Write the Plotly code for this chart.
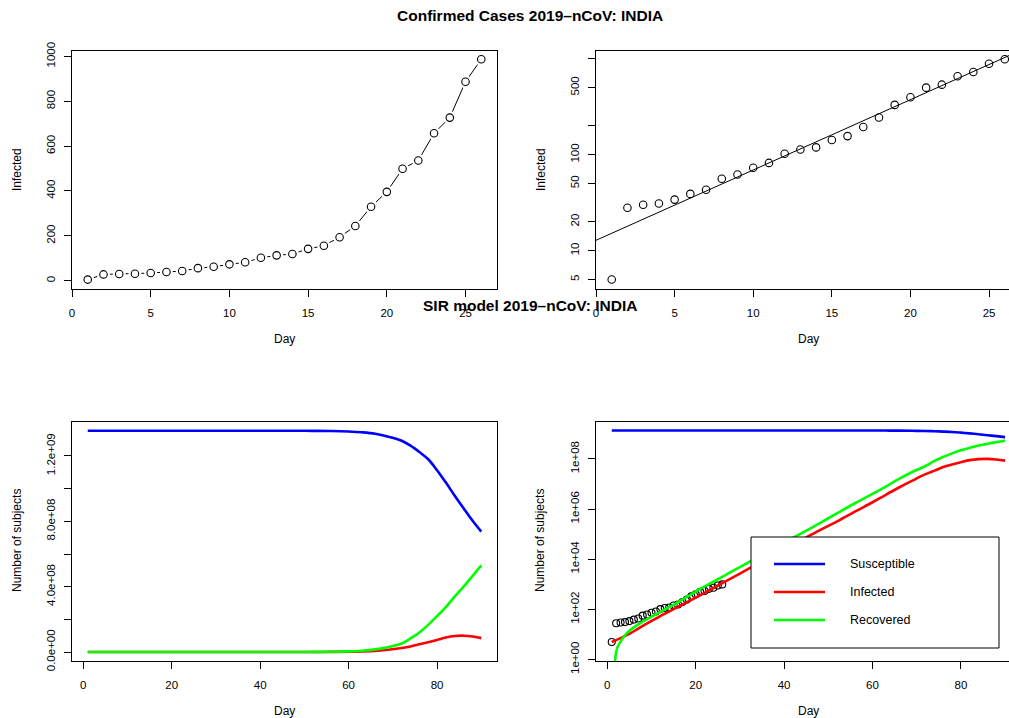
import numpy as np
import plotly.graph_objects as go

# ---------------- data ----------------
days_obs = list(range(1, 27))
infected_obs = [5, 28, 30, 31, 34, 39, 43, 56, 62, 73, 82, 102, 113, 119, 142,
                156, 194, 244, 330, 396, 499, 536, 657, 727, 887, 987]

sir_days = [1, 2, 3, 4, 5, 7, 9, 12, 16, 20, 24, 28, 32, 36, 40, 44, 48, 52, 56,
            60, 63, 66, 69, 72, 74, 76, 78, 80, 82, 84, 86, 88, 90]
susceptible = [1.354e9, 1.354e9, 1.354e9, 1.354e9, 1.354e9, 1.354e9, 1.354e9,
               1.354e9, 1.354e9, 1.354e9, 1.354e9, 1.354e9, 1.354e9, 1.354e9,
               1.354e9, 1.354e9, 1.354e9, 1.3538e9, 1.353e9, 1.350e9, 1.345e9,
               1.336e9, 1.318e9, 1.293e9, 1.263e9, 1.224e9, 1.180e9, 1.113e9,
               1.037e9, 0.957e9, 0.880e9, 0.805e9, 0.737e9]
infected = [5, 5.9, 7.1, 8.7, 10.5, 17, 27.5, 54, 126, 295, 708, 1700, 4170,
            1.0e4, 2.45e4, 5.9e4, 1.41e5, 3.2e5, 7.8e5, 1.86e6, 3.7e6, 7.2e6,
            1.35e7, 2.45e7, 3.4e7, 4.7e7, 6.0e7, 7.4e7, 8.9e7, 9.8e7, 1.0e8,
            9.5e7, 8.5e7]
recovered = [0, 2.0, 5.2, 9.3, 14, 25, 41, 79, 195, 513, 1260, 3090, 7600,
             1.86e4, 4.6e4, 1.1e5, 2.7e5, 6.8e5, 1.7e6, 4.0e6, 7.9e6, 1.6e7,
             3.0e7, 5.2e7, 8.3e7, 1.2e8, 1.66e8, 2.2e8, 2.75e8, 3.4e8, 4.0e8,
             4.65e8, 5.3e8]

series_names = ["Susceptible", "Infected", "Recovered"]
series_colors = ["#0000FF", "#FF0000", "#00FF00"]

lin_ticks_top = [0, 200, 400, 600, 800, 1000]
log_ticks_top = [5, 10, 20, 50, 100, 200, 500, 1000]
log_labels_top = ["5", "10", "20", "50", "100", "", "500", ""]
lin_ticks_sir = [0, 2e8, 4e8, 6e8, 8e8, 1.0e9, 1.2e9]
lin_labels_sir = ["0.0e+00", "", "4.0e+08", "", "8.0e+08", "", "1.2e+09"]
log_ticks_sir = [1, 1e2, 1e4, 1e6, 1e8]
log_labels_sir = ["1e+00", "1e+02", "1e+04", "1e+06", "1e+08"]

# log-linear fit of the confirmed cases
slope, intercept = np.polyfit(days_obs, np.log10(infected_obs), 1)
fit_x = [0, 27]
fit_y = [10 ** (intercept + slope * x) for x in fit_x]

# ---------------- figure ----------------
W, H = 1009, 718
FONT = "Liberation Sans, Arial, Helvetica, sans-serif"

def px_x(p):
    return p / W

def px_y(p):
    return 1 - p / H

fig = go.Figure()

# top-left: linear, type "b"
fig.add_trace(go.Scatter(x=days_obs, y=infected_obs, mode="lines",
                         line=dict(color="black", width=1),
                         xaxis="x", yaxis="y", showlegend=False))
fig.add_trace(go.Scatter(x=days_obs, y=infected_obs, mode="markers",
                         marker=dict(symbol="circle", size=13, color="white",
                                     line=dict(width=0)),
                         xaxis="x", yaxis="y", showlegend=False))
fig.add_trace(go.Scatter(x=days_obs, y=infected_obs, mode="markers",
                         marker=dict(symbol="circle-open", size=7.5, color="black",
                                     line=dict(width=1.1)),
                         xaxis="x", yaxis="y", showlegend=False))

# top-right: log with fit
fig.add_trace(go.Scatter(x=days_obs, y=infected_obs, mode="markers",
                         marker=dict(symbol="circle-open", size=7.5, color="black",
                                     line=dict(width=1.1)),
                         xaxis="x2", yaxis="y2", showlegend=False))
fig.add_trace(go.Scatter(x=fit_x, y=fit_y, mode="lines",
                         line=dict(color="black", width=1),
                         xaxis="x2", yaxis="y2", showlegend=False))

# bottom-left: SIR linear
for vals, name, col in zip([susceptible, infected, recovered], series_names, series_colors):
    fig.add_trace(go.Scatter(x=sir_days, y=vals, mode="lines", name=name,
                             line=dict(color=col, width=2.6, shape="spline", smoothing=1.0),
                             xaxis="x3", yaxis="y3", showlegend=False))

# bottom-right: SIR log with observed points
fig.add_trace(go.Scatter(x=days_obs, y=infected_obs, mode="markers",
                         marker=dict(symbol="circle-open", size=7, color="black",
                                     line=dict(width=1.1)),
                         xaxis="x4", yaxis="y4", showlegend=False))
for vals, name, col in zip([susceptible, infected, recovered], series_names, series_colors):
    fig.add_trace(go.Scatter(x=sir_days, y=vals, mode="lines", name=name,
                             line=dict(color=col, width=2.6, shape="spline", smoothing=1.0),
                             xaxis="x4", yaxis="y4", showlegend=False))

tickfont = dict(family=FONT, size=11.5, color="black")

def axis(**kw):
    d = dict(showgrid=False, zeroline=False, showline=True, linecolor="black",
             linewidth=1, mirror=True, ticks="outside", ticklen=7,
             tickcolor="black", tickwidth=1, tickfont=tickfont, tickmode="array",
             automargin=False)
    d.update(kw)
    return d

xl = [px_x(72), px_x(497)]
xr = [px_x(596), 1.0]
yt = [px_y(289), px_y(51)]
yb = [px_y(661), px_y(422)]

fig.update_layout(
    width=W, height=H, autosize=False,
    margin=dict(l=0, r=0, t=0, b=0, pad=0, autoexpand=False),
    paper_bgcolor="white", plot_bgcolor="white", showlegend=False,
    xaxis=axis(domain=xl, range=[0, 27], tickvals=[0, 5, 10, 15, 20, 25],
               anchor="y", ticklabelstandoff=6),
    yaxis=axis(domain=yt, range=[-37, 1024], tickvals=lin_ticks_top,
               ticktext=[str(v) for v in lin_ticks_top], tickangle=-90,
               anchor="x", ticklabelstandoff=4),
    xaxis2=axis(domain=xr, range=[0, 26.27], tickvals=[0, 5, 10, 15, 20, 25],
                anchor="y2", ticklabelstandoff=6),
    yaxis2=axis(domain=yt, type="log", range=[0.600, 3.080], tickvals=log_ticks_top,
                ticktext=log_labels_top, tickangle=-90, anchor="x2", mirror=False,
                ticklabelstandoff=4),
    xaxis3=axis(domain=xl, range=[-2.56, 93.56], tickvals=[0, 20, 40, 60, 80],
                anchor="y3", ticklabelstandoff=6),
    yaxis3=axis(domain=yb, range=[-5.5e7, 1.408e9], tickvals=lin_ticks_sir,
                ticktext=lin_labels_sir, tickangle=-90, anchor="x3",
                ticklabelstandoff=4),
    xaxis4=axis(domain=xr, range=[-2.56, 90.88], tickvals=[0, 20, 40, 60, 80],
                anchor="y4", ticklabelstandoff=6),
    yaxis4=axis(domain=yb, type="log", range=[-0.06, 9.47], tickvals=log_ticks_sir,
                ticktext=log_labels_sir, tickangle=-90, anchor="x4", mirror=False,
                ticklabelstandoff=4),
)

annots = []
def text(x, y, s, size=12, bold=False, angle=0, xanchor="center"):
    annots.append(dict(x=px_x(x), y=px_y(y), xref="paper", yref="paper", text=s,
                       showarrow=False, textangle=angle, xanchor=xanchor, yanchor="middle",
                       font=dict(family=FONT, size=size, color="black",
                                 weight="bold" if bold else "normal")))

text(530, 15, "Confirmed Cases 2019–nCoV: INDIA", size=15.5, bold=True)
text(530, 305, "SIR model 2019–nCoV: INDIA", size=15.5, bold=True)
text(284.5, 339, "Day")
text(808, 339, "Day")
text(284.5, 711, "Day")
text(808, 711, "Day")
text(17, 170, "Infected", angle=-90)
text(541, 170, "Infected", angle=-90)
text(17, 541, "Number of subjects", angle=-90)
text(540, 541, "Number of subjects", angle=-90)

# legend (bottom-right panel)
shapes = [dict(type="rect", xref="paper", yref="paper", x0=px_x(751), x1=px_x(999),
               y0=px_y(648), y1=px_y(537), fillcolor="white",
               line=dict(color="black", width=1), layer="above")]
for yy, name, col in zip([564, 592, 620], series_names, series_colors):
    shapes.append(dict(type="line", xref="paper", yref="paper", x0=px_x(774), x1=px_x(825),
                       y0=px_y(yy), y1=px_y(yy), line=dict(color=col, width=2.6),
                       layer="above"))
    text(848, yy, name, size=12.5, xanchor="left")

fig.update_layout(annotations=annots, shapes=shapes)

fig.write_html("out.html", config={"responsive": False, "displayModeBar": False},
               post_script="document.body.style.margin='0';"
                           "document.body.style.overflow='hidden';")
